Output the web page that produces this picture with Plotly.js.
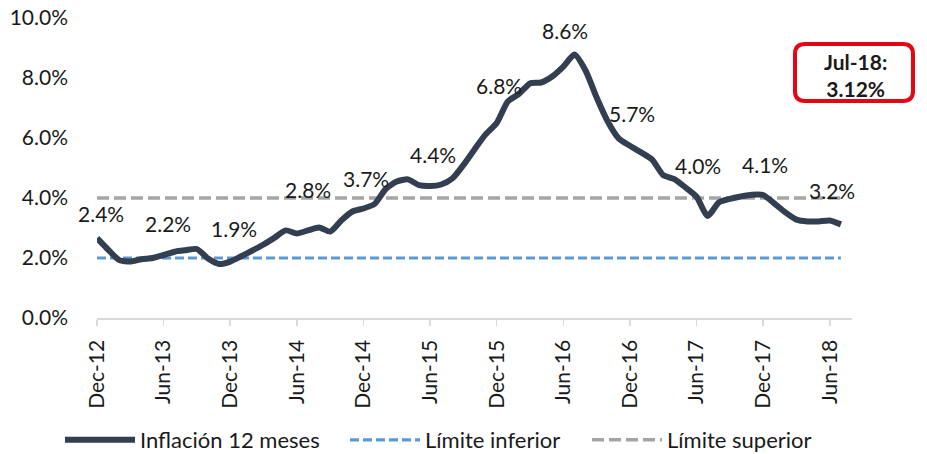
<!DOCTYPE html>
<html>
<head>
<meta charset="utf-8">
<script src="https://cdn.plot.ly/plotly-3.0.1.min.js"></script>
<style>
  html, body { margin: 0; padding: 0; background: #ffffff; }
  #chart { width: 927px; height: 454px; }
</style>
</head>
<body>
<div id="chart"></div>
<script>
// ---------- DATA ----------
const months = [
  "Dec-12",
  "Jan-13","Feb-13","Mar-13","Apr-13","May-13","Jun-13","Jul-13","Aug-13","Sep-13","Oct-13","Nov-13","Dec-13",
  "Jan-14","Feb-14","Mar-14","Apr-14","May-14","Jun-14","Jul-14","Aug-14","Sep-14","Oct-14","Nov-14","Dec-14",
  "Jan-15","Feb-15","Mar-15","Apr-15","May-15","Jun-15","Jul-15","Aug-15","Sep-15","Oct-15","Nov-15","Dec-15",
  "Jan-16","Feb-16","Mar-16","Apr-16","May-16","Jun-16","Jul-16","Aug-16","Sep-16","Oct-16","Nov-16","Dec-16",
  "Jan-17","Feb-17","Mar-17","Apr-17","May-17","Jun-17","Jul-17","Aug-17","Sep-17","Oct-17","Nov-17","Dec-17",
  "Jan-18","Feb-18","Mar-18","Apr-18","May-18","Jun-18","Jul-18"
];

// Inflación 12 meses (%)
const inflation = [
  2.66,
  2.28, 1.93, 1.88, 1.96, 2.00, 2.10, 2.21, 2.26, 2.30, 1.98, 1.80, 1.88,
  2.06, 2.25, 2.45, 2.68, 2.92, 2.82, 2.92, 3.02, 2.88, 3.25, 3.55, 3.65,
  3.80, 4.30, 4.55, 4.62, 4.43, 4.40, 4.45, 4.65, 5.10, 5.62, 6.12, 6.50,
  7.22, 7.47, 7.82, 7.85, 8.05, 8.38, 8.78, 8.25, 7.35, 6.55, 5.98, 5.74,
  5.52, 5.28, 4.76, 4.63, 4.35, 4.04, 3.40, 3.85, 3.97, 4.05, 4.11, 4.10,
  3.82, 3.52, 3.28, 3.22, 3.22, 3.25, 3.12
];

const lowerLimitValue = 2.0;   // Límite inferior (%)
const upperLimitValue = 4.0;   // Límite superior (%)

const tickMonths = ["Dec-12","Jun-13","Dec-13","Jun-14","Dec-14","Jun-15","Dec-15","Jun-16","Dec-16","Jun-17","Dec-17","Jun-18"];
const yTickValues = [0, 2, 4, 6, 8, 10];
const yTickLabels = ["0.0%","2.0%","4.0%","6.0%","8.0%","10.0%"];

const labelMonths = ["Dec-12","Jun-13","Dec-13","Jun-14","Dec-14","Jun-15","Dec-15","Jun-16","Dec-16","Jun-17","Dec-17","Jun-18"];
const labelTexts  = ["2.4%","2.2%","1.9%","2.8%","3.7%","4.4%","6.8%","8.6%","5.7%","4.0%","4.1%","3.2%"];

const seriesNames = ["Inflación 12 meses", "Límite inferior", "Límite superior"];

// ---------- STYLE / LAYOUT HELPERS ----------
const FONT = 'Lato, "Open Sans", "DejaVu Sans", sans-serif';
const TEXT_COLOR = '#1a1a1a';
const labelShiftY = [25, 32, 33, 44, 30, 32, 38, 36, 32, 31, 31, 30];
const labelShiftX = [4, 4, 4, 11, 3, 3, 2, 2, 2, 1.5, 2, 2.4];

const lowerLimit = months.map(() => lowerLimitValue);
const upperLimit = months.map(() => upperLimitValue);

const PLOT_W = 755, PLOT_H = 300, ML = 97, MT = 18;
const px2x = p => (p - ML) / PLOT_W;
const px2y = p => (MT + PLOT_H - p) / PLOT_H;

const traces = [
  {
    x: months, y: upperLimit, name: seriesNames[2], type: 'scatter', mode: 'lines',
    line: { color: '#A5A5A5', width: 3.5, dash: '12px,5px' }, hoverinfo: 'skip',
    legend: 'legend3'
  },
  {
    x: months, y: lowerLimit, name: seriesNames[1], type: 'scatter', mode: 'lines',
    line: { color: '#5B9BD5', width: 3.2, dash: '9px,4px' }, hoverinfo: 'skip',
    legend: 'legend2'
  },
  {
    x: months, y: inflation, name: seriesNames[0], type: 'scatter', mode: 'lines',
    line: { color: '#333F50', width: 6, shape: 'spline', smoothing: 0.6 },
    legend: 'legend'
  }
];

const annotations = labelMonths.map((m, k) => {
  const idx = months.indexOf(m);
  return {
    x: idx, y: inflation[idx], xref: 'x', yref: 'y',
    text: labelTexts[k], showarrow: false,
    xshift: labelShiftX[k], yshift: labelShiftY[k],
    font: { family: FONT, size: 21, color: TEXT_COLOR }
  };
});

// Callout box with the latest value
const lastIdx = inflation.length - 1;
const lastMonth = months[lastIdx];
const lastValue = inflation[lastIdx];

function roundedRectPath(x0, y0, x1, y1, r) {
  const X = px2x, Y = px2y;
  return [
    'M', X(x0 + r), Y(y0),
    'L', X(x1 - r), Y(y0),
    'Q', X(x1), Y(y0), X(x1), Y(y0 + r),
    'L', X(x1), Y(y1 - r),
    'Q', X(x1), Y(y1), X(x1 - r), Y(y1),
    'L', X(x0 + r), Y(y1),
    'Q', X(x0), Y(y1), X(x0), Y(y1 - r),
    'L', X(x0), Y(y0 + r),
    'Q', X(x0), Y(y0), X(x0 + r), Y(y0),
    'Z'
  ].join(' ');
}

annotations.push({
  xref: 'paper', yref: 'paper',
  x: px2x(855), y: px2y(75),
  xanchor: 'center', yanchor: 'middle',
  text: '<b>' + lastMonth + ':</b><br><b>' + lastValue.toFixed(2) + '%</b>',
  showarrow: false, align: 'center',
  font: { family: FONT, size: 21, color: TEXT_COLOR }
});

function legendAt(pxLeft) {
  return {
    orientation: 'h', x: px2x(pxLeft), xanchor: 'left', y: px2y(440), yanchor: 'middle',
    font: { family: FONT, size: 22, color: TEXT_COLOR },
    itemwidth: 70, bgcolor: 'rgba(0,0,0,0)'
  };
}

const layout = {
  width: 927, height: 454,
  margin: { l: ML, r: 927 - ML - PLOT_W, t: MT, b: 454 - MT - PLOT_H, pad: 0, autoexpand: false },
  paper_bgcolor: '#ffffff', plot_bgcolor: '#ffffff',
  font: { family: FONT, size: 21, color: TEXT_COLOR },
  showlegend: true,
  legend: legendAt(60),
  legend2: legendAt(345),
  legend3: legendAt(587),
  xaxis: {
    type: 'category', range: [0, 68], automargin: false,
    tickmode: 'array', tickvals: tickMonths, ticktext: tickMonths,
    tickangle: -90, ticks: 'outside', ticklen: 6, tickcolor: '#D9D9D9', tickwidth: 1.5,
    ticklabelstandoff: 6,
    showline: true, linecolor: '#D9D9D9', linewidth: 1.5,
    showgrid: false, zeroline: false,
    tickfont: { family: FONT, size: 21, color: TEXT_COLOR }
  },
  yaxis: {
    range: [0, 10], tickmode: 'array', tickvals: yTickValues, ticktext: yTickLabels,
    showgrid: false, zeroline: false, showline: false, automargin: false,
    ticks: '', ticklabelstandoff: 28,
    tickfont: { family: FONT, size: 21, color: TEXT_COLOR }
  },
  annotations: annotations,
  shapes: [{
    type: 'path', xref: 'paper', yref: 'paper',
    path: roundedRectPath(795, 44, 913, 101, 10),
    line: { color: '#E30613', width: 4 }, fillcolor: 'rgba(255,255,255,0)'
  }]
};

Plotly.newPlot('chart', traces, layout, { displayModeBar: false, staticPlot: true });
</script>
</body>
</html>
